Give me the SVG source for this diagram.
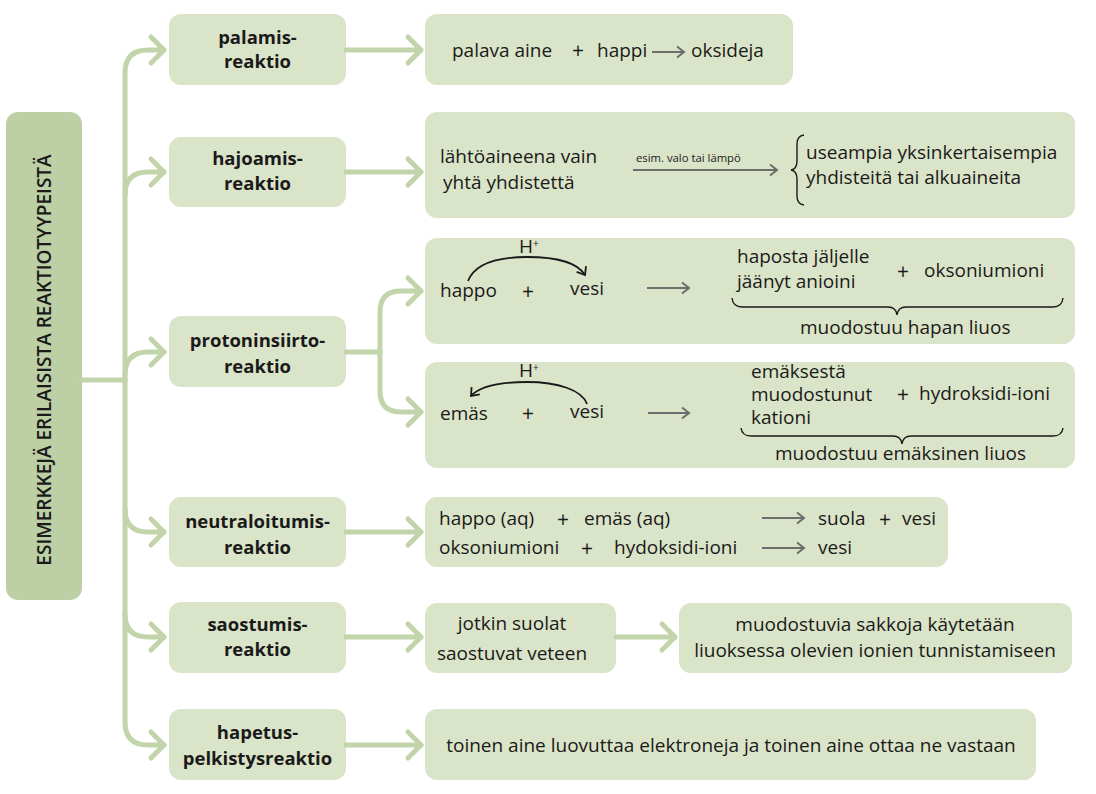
<svg xmlns="http://www.w3.org/2000/svg" width="1096" height="794" viewBox="0 0 1096 794">
<style>
.node{fill:#dae4c8}
.lbl{fill:#bccfa5}
.t{font-family:'Open Sans','Noto Sans',sans-serif;font-size:19px;fill:#1a1a1a}
.b{font-family:'Open Sans','Noto Sans',sans-serif;font-size:18.5px;font-weight:700;fill:#1a1a1a;text-anchor:middle}
.s{font-size:11.3px}
.m{text-anchor:middle}
.p{font-size:21px;text-anchor:middle}
.con{fill:none;stroke:#c2d4aa;stroke-width:5;stroke-linecap:round;stroke-linejoin:round}
.ga{fill:none;stroke:#6d6d6d;stroke-width:2}
.bk{fill:none;stroke:#1a1a1a;stroke-width:1.8}
.br{fill:none;stroke:#1a1a1a;stroke-width:1.4}
</style>
<defs>
<marker id="mg" markerUnits="userSpaceOnUse" markerWidth="24" markerHeight="36" viewBox="-3 -3 24 36" refX="15" refY="14" orient="auto" overflow="visible">
<path d="M2,1 L15,14 L2,27" fill="none" stroke="#c2d4aa" stroke-width="5" stroke-linecap="round" stroke-linejoin="round"/>
</marker>
<marker id="mgr" markerUnits="userSpaceOnUse" markerWidth="12" markerHeight="14" viewBox="0 0 12 14" refX="9" refY="7" orient="auto" overflow="visible">
<path d="M2,1.5 L9,7 L2,12.5" fill="none" stroke="#6d6d6d" stroke-width="2"/>
</marker>
<marker id="mbk" markerUnits="userSpaceOnUse" markerWidth="12" markerHeight="14" viewBox="0 0 12 14" refX="9" refY="7" orient="auto" overflow="visible">
<path d="M2,1.5 L9,7 L2,12.5" fill="none" stroke="#1a1a1a" stroke-width="1.8"/>
</marker>
</defs>

<g id="title">
<rect class="lbl" x="6" y="112" width="76" height="488" rx="12"/>
<text class="t" font-weight="600" font-size="20.5" text-anchor="middle" transform="translate(51,360) rotate(-90)">ESIMERKKEJÄ ERILAISISTA REAKTIOTYYPEISTÄ</text>
</g>

<g id="palamis">
<rect class="node" x="169" y="14" width="177" height="71" rx="12"/>
<text class="b" x="257.5" y="44">palamis-</text>
<text class="b" x="257.5" y="68">reaktio</text>
</g>
<g id="palamis-tulos">
<rect class="node" x="425" y="14" width="368" height="71" rx="12"/>
<text class="t" x="452" y="57">palava aine</text>
<text class="t p" x="578" y="58">+</text>
<text class="t" x="597" y="57">happi</text>
<path class="ga" d="M652,52 H684" marker-end="url(#mgr)"/>
<text class="t" x="691" y="57">oksideja</text>
</g>

<g id="hajoamis">
<rect class="node" x="169" y="137" width="177" height="70" rx="12"/>
<text class="b" x="257.5" y="165">hajoamis-</text>
<text class="b" x="257.5" y="190">reaktio</text>
</g>
<g id="hajoamis-tulos">
<rect class="node" x="425" y="112" width="650" height="106" rx="12"/>
<text class="t" x="440" y="163">lähtöaineena vain</text>
<text class="t" x="443" y="189">yhtä yhdistettä</text>
<text class="t s" x="636" y="162">esim. valo tai lämpö</text>
<path class="ga" d="M633,170 H777" marker-end="url(#mgr)"/>
<path class="br" d="M804,135 Q797,136 797,144 V161 Q797,169 791,170 Q797,171 797,179 V196 Q797,204 804,205"/>
<text class="t" x="806" y="159">useampia yksinkertaisempia</text>
<text class="t" x="806" y="184">yhdisteitä tai alkuaineita</text>
</g>

<g id="protoninsiirto">
<rect class="node" x="169" y="316" width="177" height="71" rx="12"/>
<text class="b" x="257.5" y="347">protoninsiirto-</text>
<text class="b" x="257.5" y="373">reaktio</text>
</g>
<g id="happo-vesi">
<rect class="node" x="425" y="238" width="650" height="106" rx="12"/>
<text class="t" font-size="17" x="519" y="253">H<tspan font-size="10" dy="-6">+</tspan></text>
<path class="bk" d="M468,281 C475,263 500,257 527,257 C555,257 577,262 585,275" marker-end="url(#mbk)"/>
<text class="t" x="440" y="297">happo</text>
<text class="t p" x="528" y="299">+</text>
<text class="t" x="570" y="295">vesi</text>
<path class="ga" d="M647,288 H689" marker-end="url(#mgr)"/>
<text class="t" x="737" y="263">haposta jäljelle</text>
<text class="t" x="737" y="288">jäänyt anioini</text>
<text class="t p" x="903" y="279">+</text>
<text class="t" x="924" y="277">oksoniumioni</text>
<path class="br" d="M732,298 Q733,307 742,307 H888 Q896,307 897,315 Q898,307 906,307 H1053 Q1062,307 1063,298"/>
<text class="t" x="800" y="334">muodostuu hapan liuos</text>
</g>
<g id="emas-vesi">
<rect class="node" x="425" y="362" width="650" height="106" rx="12"/>
<text class="t" font-size="17" x="519" y="377">H<tspan font-size="10" dy="-6">+</tspan></text>
<path class="bk" d="M587,404 C582,390 558,382 527,382 C500,382 480,386 471,396" marker-end="url(#mbk)"/>
<text class="t" x="440" y="420">emäs</text>
<text class="t p" x="528" y="421">+</text>
<text class="t" x="570" y="418">vesi</text>
<path class="ga" d="M648,413 H689" marker-end="url(#mgr)"/>
<text class="t" font-size="16.8" x="751" y="378">emäksestä</text>
<text class="t" font-size="16.8" x="751" y="401">muodostunut</text>
<text class="t" font-size="16.8" x="751" y="424">kationi</text>
<text class="t p" x="903" y="402">+</text>
<text class="t" x="919" y="400">hydroksidi-ioni</text>
<path class="br" d="M741,428 Q742,436 751,436 H893 Q901,436 902,444 Q903,436 911,436 H1053 Q1062,436 1063,428"/>
<text class="t" x="775" y="460">muodostuu emäksinen liuos</text>
</g>

<g id="neutraloitumis">
<rect class="node" x="169" y="497" width="177" height="70" rx="12"/>
<text class="b" x="257.5" y="528">neutraloitumis-</text>
<text class="b" x="257.5" y="554">reaktio</text>
</g>
<g id="neutraloitumis-tulos">
<rect class="node" x="425" y="497" width="523" height="70" rx="12"/>
<text class="t" x="439" y="525">happo (aq)</text>
<text class="t p" x="563" y="527">+</text>
<text class="t" x="584" y="525">emäs (aq)</text>
<path class="ga" d="M762,518 H804" marker-end="url(#mgr)"/>
<text class="t" x="818" y="525">suola</text>
<text class="t p" x="885" y="527">+</text>
<text class="t" x="902" y="525">vesi</text>
<text class="t" x="439" y="554">oksoniumioni</text>
<text class="t p" x="587" y="556">+</text>
<text class="t" x="614" y="554">hydoksidi-ioni</text>
<path class="ga" d="M762,548 H804" marker-end="url(#mgr)"/>
<text class="t" x="818" y="554">vesi</text>
</g>

<g id="saostumis">
<rect class="node" x="169" y="602" width="177" height="71" rx="12"/>
<text class="b" x="257.5" y="631">saostumis-</text>
<text class="b" x="257.5" y="656">reaktio</text>
</g>
<g id="saostumis-tulos">
<rect class="node" x="425" y="603" width="191" height="70" rx="12"/>
<text class="t m" x="512" y="630">jotkin suolat</text>
<text class="t m" x="512" y="660">saostuvat veteen</text>
</g>
<g id="saostumis-kaytto">
<rect class="node" x="679" y="603" width="393" height="70" rx="12"/>
<text class="t m" x="875" y="631">muodostuvia sakkoja käytetään</text>
<text class="t m" x="875" y="657">liuoksessa olevien ionien tunnistamiseen</text>
</g>

<g id="hapetus">
<rect class="node" x="169" y="709" width="177" height="71" rx="12"/>
<text class="b" x="257.5" y="739">hapetus-</text>
<text class="b" x="257.5" y="765">pelkistysreaktio</text>
</g>
<g id="hapetus-tulos">
<rect class="node" x="425" y="709" width="611" height="71" rx="12"/>
<text class="t m" x="731" y="752">toinen aine luovuttaa elektroneja ja toinen aine ottaa ne vastaan</text>
</g>

<g id="connectors">
<path class="con" d="M82,380 H125"/>
<path class="con" d="M125,380 V73 Q125,50 148,50 H164" marker-end="url(#mg)"/>
<path class="con" d="M125,380 V722 Q125,745 148,745 H164" marker-end="url(#mg)"/>
<path class="con" d="M125,195 Q125,172 148,172 H164" marker-end="url(#mg)"/>
<path class="con" d="M125,375 Q125,352 148,352 H164" marker-end="url(#mg)"/>
<path class="con" d="M125,509 Q125,532 148,532 H164" marker-end="url(#mg)"/>
<path class="con" d="M125,614 Q125,637 148,637 H164" marker-end="url(#mg)"/>
<path class="con" d="M346,50 H421" marker-end="url(#mg)"/>
<path class="con" d="M346,172 H421" marker-end="url(#mg)"/>
<path class="con" d="M346,352 H380"/>
<path class="con" d="M380,352 V312 Q380,291 401,291 H421" marker-end="url(#mg)"/>
<path class="con" d="M380,352 V391 Q380,412 401,412 H421" marker-end="url(#mg)"/>
<path class="con" d="M346,532 H421" marker-end="url(#mg)"/>
<path class="con" d="M346,637 H421" marker-end="url(#mg)"/>
<path class="con" d="M616,637 H675" marker-end="url(#mg)"/>
<path class="con" d="M346,745 H421" marker-end="url(#mg)"/>
</g>
</svg>
